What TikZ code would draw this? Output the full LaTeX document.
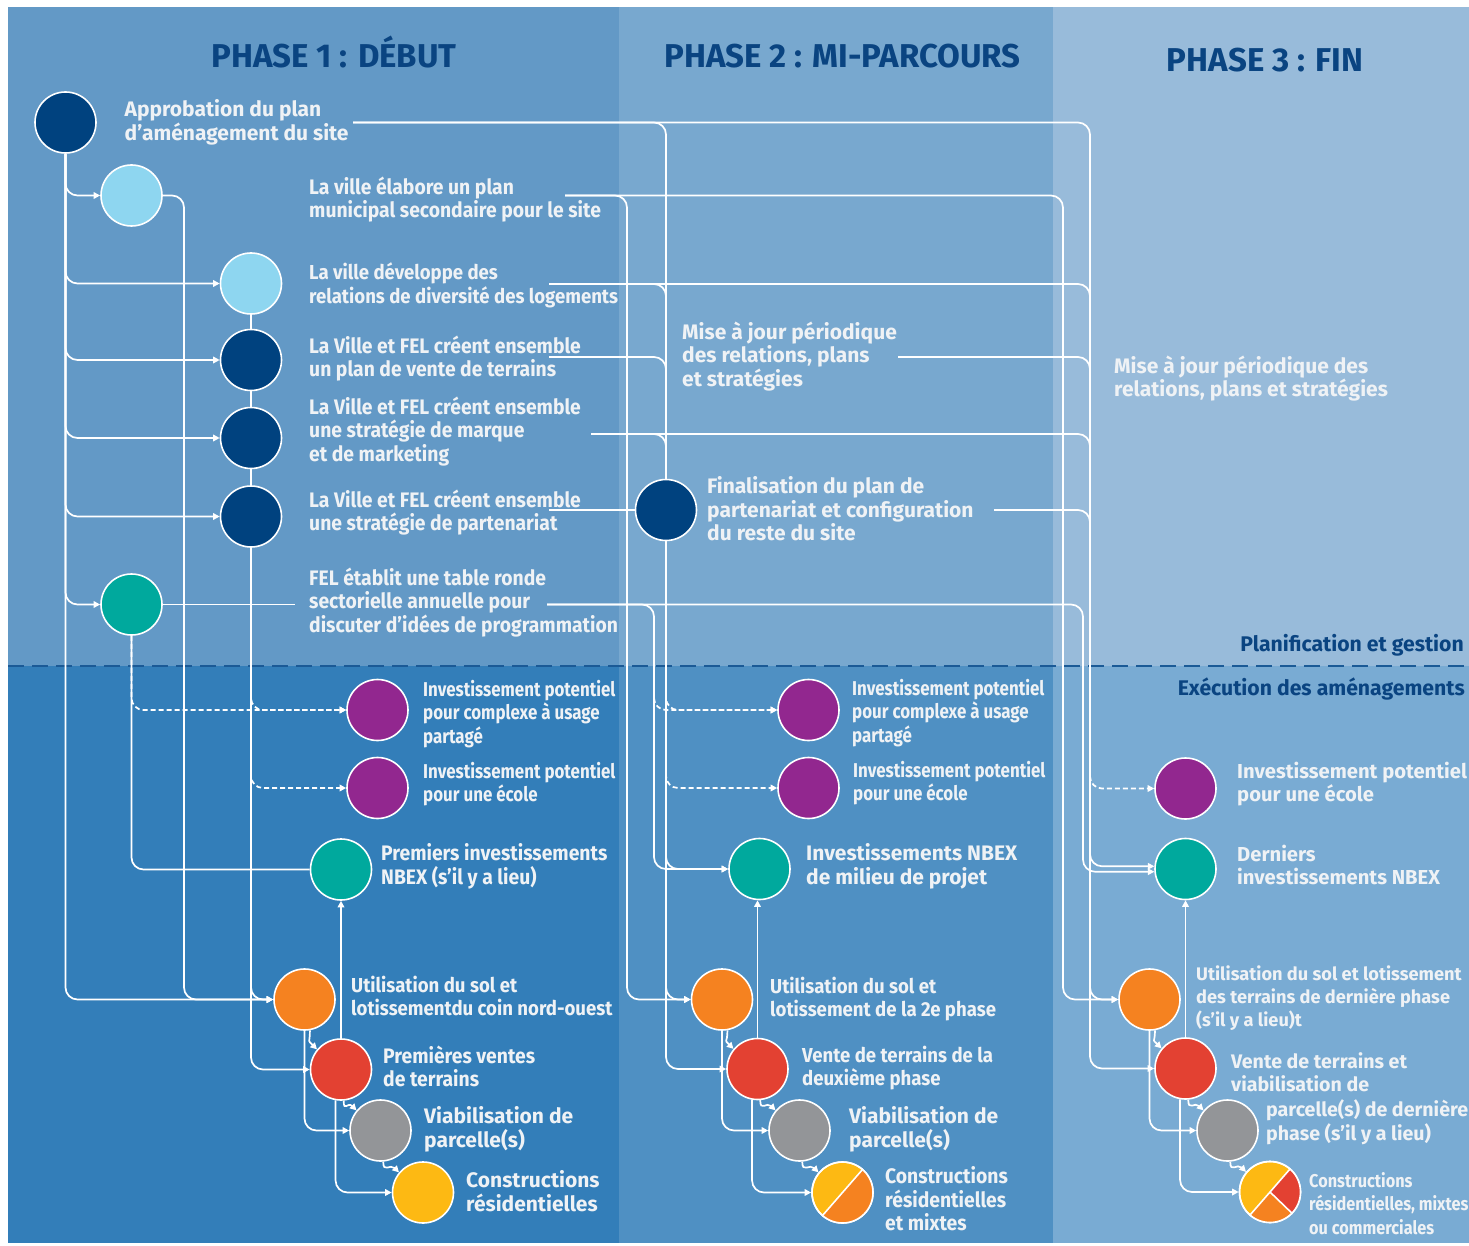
\documentclass[tikz,border=0pt]{standalone}
\usepackage{fontspec}
\setmainfont{Fira Sans}
\newfontfamily\wfont{Fira Sans}
\newfontfamily\pfont[FakeStretch=0.845]{Fira Sans}
\newfontfamily\mfont[FakeStretch=0.92]{Fira Sans}
\newfontfamily\yfont[FakeStretch=0.88]{Fira Sans}
\usetikzlibrary{arrows.meta,calc}
\definecolor{bgAu}{HTML}{6399C6}
\definecolor{bgAl}{HTML}{337EB9}
\definecolor{bgBu}{HTML}{78A8CF}
\definecolor{bgBl}{HTML}{4F90C3}
\definecolor{bgCu}{HTML}{98BBDA}
\definecolor{bgCl}{HTML}{79ABD3}
\definecolor{cNavy}{HTML}{00427F}
\definecolor{cLight}{HTML}{8ED6F0}
\definecolor{cTeal}{HTML}{00A99D}
\definecolor{cPurple}{HTML}{92278F}
\definecolor{cOrange}{HTML}{F58220}
\definecolor{cRed}{HTML}{E34132}
\definecolor{cGrey}{HTML}{939598}
\definecolor{cYellow}{HTML}{FDB913}
\definecolor{cTitle}{HTML}{0A4481}
\definecolor{cSep}{HTML}{1B5A96}
\definecolor{cText}{HTML}{EFF2F5}
\newcommand\tstrut{\rule{0pt}{16.5pt}}
\tikzset{
  dot/.style={circle, draw=white, line width=1.6pt, minimum size=61pt, inner sep=0pt},
  ln/.style={draw=white, line width=1.7pt, rounded corners=12pt},
  arr/.style={-{Triangle[length=6.5pt,width=6.5pt]}},
  dsh/.style={dash pattern=on 5pt off 3pt},
  lb/.style={anchor=north west, inner sep=0pt, align=left, text=cText},
  wl/.style={lb, font=\wfont\bfseries\fontsize{21}{23.5}\selectfont},
  wlt/.style={lb, font=\wfont\bfseries\fontsize{20.2}{23.5}\selectfont},
  wlo/.style={lb, font=\wfont\bfseries\fontsize{18.2}{23}\selectfont},
  wlr/.style={lb, font=\wfont\bfseries\fontsize{19.6}{23.5}\selectfont},
  pl/.style={lb, font=\pfont\bfseries\fontsize{20}{23.5}\selectfont},
  ml/.style={lb, font=\mfont\bfseries\fontsize{21}{23.5}\selectfont},
  mls/.style={lb, font=\mfont\bfseries\fontsize{20.2}{23.5}\selectfont},
  yl/.style={lb, font=\yfont\bfseries\fontsize{18.5}{23.5}\selectfont},
  ttl/.style={anchor=base, inner sep=0pt, text=cTitle, font=\wfont\bfseries\fontsize{33}{38}\selectfont},
  sect/.style={anchor=base east, inner sep=0pt, text=cTitle, font=\wfont\bfseries\fontsize{21.2}{25}\selectfont}
}
\begin{document}
\begin{tikzpicture}[x=1pt,y=-1pt]
\useasboundingbox (0,0) rectangle (1469,1246);
\clip (0,0) rectangle (1469,1246);
\fill[white] (0,0) rectangle (1469,1246);
\fill[bgAu] (8,7) rectangle (619,666);
\fill[bgAl] (8,666) rectangle (619,1243);
\fill[bgBu] (619,7) rectangle (1053,666);
\fill[bgBl] (619,666) rectangle (1053,1243);
\fill[bgCu] (1053,7) rectangle (1469,666);
\fill[bgCl] (1053,666) rectangle (1469,1243);
\draw[cSep, line width=2pt, dash pattern=on 16pt off 8pt] (8,666) -- (1469,666);

% titles
\node[ttl] (t1) at (334,68) {PHASE 1 : DÉBUT};
\node[ttl] (t2) at (842.5,68) {PHASE 2 : MI-PARCOURS};
\node[ttl] (t3) at (1265,71.5) {PHASE 3 : FIN};
\node[sect] (sPlan) at (1464,651) {Planification et gestion};
\node[sect] (sExec) at (1465,695) {Exécution des aménagements};

% circles
\node[dot, fill=cNavy] (A) at (65.5,122.5) {};
\node[dot, fill=cLight] (B) at (131.5,195.5) {};
\node[dot, fill=cLight] (C) at (251,283.5) {};
\node[dot, fill=cNavy] (D) at (251,360) {};
\node[dot, fill=cNavy] (E) at (251,438) {};
\node[dot, fill=cNavy] (F) at (251,516.5) {};
\node[dot, fill=cTeal] (G) at (131.5,604.5) {};
\node[dot, fill=cNavy] (H) at (666,510) {};
\node[dot, fill=cPurple] (P1a) at (377.5,710) {};
\node[dot, fill=cPurple] (P1b) at (377.5,788) {};
\node[dot, fill=cTeal] (N1) at (341,869.5) {};
\node[dot, fill=cOrange] (O1) at (304.5,999.5) {};
\node[dot, fill=cRed] (R1) at (341,1069.5) {};
\node[dot, fill=cGrey] (V1) at (380.5,1130.5) {};
\node[dot, fill=cYellow] (Y1) at (423,1192.5) {};
\node[dot, fill=cPurple] (P2a) at (808.5,710) {};
\node[dot, fill=cPurple] (P2b) at (808.5,788) {};
\node[dot, fill=cTeal] (N2) at (759.5,869) {};
\node[dot, fill=cOrange] (O2) at (722,999.5) {};
\node[dot, fill=cRed] (R2) at (757.5,1069) {};
\node[dot, fill=cGrey] (V2) at (799.5,1130.5) {};
\node[dot, fill=cYellow] (Y2) at (842.5,1192.5) {};
\node[dot, fill=cPurple] (P3) at (1185.5,788.5) {};
\node[dot, fill=cTeal] (N3) at (1185.5,869) {};
\node[dot, fill=cOrange] (O3) at (1149.5,999.5) {};
\node[dot, fill=cRed] (R3) at (1185.5,1068.5) {};
\node[dot, fill=cGrey] (V3) at (1227.5,1130.5) {};
\node[dot, fill=cYellow] (Y3) at (1270,1192) {};

% pies
\fill[cOrange] (Y2.center) -- ++(-49:30.5) arc[start angle=-49, end angle=131, radius=30.5] -- cycle;
\draw[white, line width=1.6pt] (Y2.49) -- (Y2.229);
\draw[white, line width=1.6pt] (Y2.center) circle[radius=30.5];
\fill[cOrange] (Y3.center) -- ++(131:30.5) arc[start angle=131, end angle=44, radius=30.5] -- cycle;
\fill[cRed] (Y3.center) -- ++(44:30.5) arc[start angle=44, end angle=-49, radius=30.5] -- cycle;
\draw[white, line width=1.6pt] (Y3.49) -- (Y3.229);
\draw[white, line width=1.6pt] (Y3.center) -- (Y3.-44);
\draw[white, line width=1.6pt] (Y3.center) circle[radius=30.5];

% labels
\node[wl] (lA) at (124.5,99.5) {\tstrut Approbation du plan\\d’aménagement du site};
\node[ml] (lB) at (309,176.5) {\tstrut La ville élabore un plan\\municipal secondaire pour le site};
\node[mls] (lC) at (309,262.5) {\tstrut La ville développe des\\relations de diversité des logements};
\node[ml] (lD) at (309,335.5) {\tstrut La Ville et FEL créent ensemble\\un plan de vente de terrains};
\node[ml] (lE) at (309,396.5) {\tstrut La Ville et FEL créent ensemble\\une stratégie de marque\\et de marketing};
\node[ml] (lF) at (309,489.5) {\tstrut La Ville et FEL créent ensemble\\une stratégie de partenariat};
\node[ml] (lG) at (309,567.5) {\tstrut FEL établit une table ronde\\sectorielle annuelle pour\\discuter d’idées de programmation};
\node[wl] (lM2) at (682,321.5) {\tstrut Mise à jour périodique\\des relations, plans\\et stratégies};
\node[wl] (lH) at (707,476.5) {\tstrut Finalisation du plan de\\partenariat et configuration\\du reste du site};
\node[wl] (lM3) at (1114,355.5) {\tstrut Mise à jour périodique des\\relations, plans et stratégies};
\node[pl] (lP1a) at (423,679.5) {\tstrut Investissement potentiel\\pour complexe à usage\\partagé};
\node[pl] (lP1b) at (423,761.5) {\tstrut Investissement potentiel\\pour une école};
\node[ml] (lN1) at (381,843.5) {\tstrut Premiers investissements\\NBEX (s’il y a lieu)};
\node[mls] (lO1) at (351,975.5) {\tstrut Utilisation du sol et\\lotissementdu coin nord-ouest};
\node[ml] (lR1) at (383,1045.5) {\tstrut Premières ventes\\de terrains};
\node[wl] (lV1) at (424,1106.5) {\tstrut Viabilisation de\\parcelle(s)};
\node[wl] (lY1) at (466,1170.5) {\tstrut Constructions\\résidentielles};
\node[pl] (lP2a) at (852,678.5) {\tstrut Investissement potentiel\\pour complexe à usage\\partagé};
\node[pl] (lP2b) at (853,760.5) {\tstrut Investissement potentiel\\pour une école};
\node[wl] (lN2) at (806,843.5) {\tstrut Investissements NBEX\\de milieu de projet};
\node[mls] (lO2) at (770,976.5) {\tstrut Utilisation du sol et\\lotissement de la 2e phase};
\node[mls] (lR2) at (802,1045.5) {\tstrut Vente de terrains de la\\deuxième phase};
\node[wl] (lV2) at (849,1106.5) {\tstrut Viabilisation de\\parcelle(s)};
\node[ml] (lY2) at (885,1166.5) {\tstrut Constructions\\résidentielles\\et mixtes};
\node[wlt] (lP3) at (1237,761.5) {\tstrut Investissement potentiel\\pour une école};
\node[wlt] (lN3) at (1237,844.5) {\tstrut Derniers\\investissements NBEX};
\node[wlo] (lO3) at (1196,963.5) {\tstrut Utilisation du sol et lotissement\\des terrains de dernière phase\\(s’il y a lieu)t};
\node[wlr] (lR3) at (1231,1051.5) {\tstrut Vente de terrains et\\viabilisation de};
\node[wlr] (lR3b) at (1266,1099.5) {\tstrut parcelle(s) de dernière\\phase (s’il y a lieu)};
\node[yl] (lY3) at (1309,1170.5) {\tstrut Constructions\\résidentielles, mixtes\\ou commerciales};

% helper coordinates
\coordinate (aS) at (353,122.5);
\coordinate (bS) at (565,195.5);
\coordinate (cS) at (549,284);
\coordinate (dS) at (549,357);
\coordinate (eS) at (591,434);
\coordinate (fS) at (549,510);
\coordinate (gT) at (295,604.5);
\coordinate (gS) at (547,604.5);
\coordinate (mS) at (898,357);
\coordinate (hS) at (994,510);
\coordinate (X1b) at (184,0);
\coordinate (X2b) at (627,0);
\coordinate (X2g) at (654,0);
\coordinate (X3) at (1090,0);
\coordinate (X3b) at (1063,0);
\coordinate (X3g) at (1083,0);
\coordinate (k2g) at (654,650);
\coordinate (k3) at (1090,560);

% phase 1 planning
\draw[ln,arr] (A.south) |- (B.west);
\draw[ln,arr] (A.south) |- (C.west);
\draw[ln,arr] (A.south) |- (D.west);
\draw[ln,arr] (A.south) |- (E.west);
\draw[ln,arr] (A.south) |- (F.west);
\draw[ln,arr] (A.south) |- (G.west);
\draw[ln,arr] (A.south) |- (O1.west);
\draw[ln,arr] (B.east) -| (O1.west -| X1b) -- (O1.west);
\draw[ln] (C.south) -- (D.north);
\draw[ln] (D.south) -- (E.north);
\draw[ln] (E.south) -- (F.north);
\draw[ln,arr] (F.south) |- (O1.west);
\draw[ln,arr] (F.south) |- (R1.west);
\draw[ln,arr,dsh] (F.south) |- (P1a.west);
\draw[ln,arr,dsh] (F.south) |- (P1b.west);
\draw[ln] (G.south) |- (N1.west);
\draw[ln,arr,dsh] (G.south) |- (P1a.west);
\draw[ln] (G.east) -- (gT);

% phase 2 feeders
\draw[ln] (aS) -| (H.north);
\draw[ln] (cS) -| (H.north);
\draw[ln] (dS) -| (H.north);
\draw[ln] (eS) -| (H.north);
\draw[ln] (fS) -- (H.west);
\draw[ln,arr] (bS) -| (O2.west -| X2b) -- (O2.west);
\draw[ln,arr] (gS) -| (N2.west -| X2g) -- (N2.west);
\draw[ln,arr,dsh] (k2g) |- (P2a.west);
\draw[ln,arr,dsh] (H.south) |- (P2a.west);
\draw[ln,arr,dsh] (H.south) |- (P2b.west);
\draw[ln,arr] (H.south) |- (N2.west);
\draw[ln,arr] (H.south) |- (O2.west);
\draw[ln,arr] (H.south) |- (R2.west);

% phase 3 feeders
\draw[ln,arr] (aS) -| (R3.west -| X3) -- (R3.west);
\draw[ln] (cS) -| (N3.west -| X3);
\draw[ln] (mS) -| (N3.west -| X3);
\draw[ln] (eS) -| (N3.west -| X3);
\draw[ln] (hS) -| (N3.west -| X3);
\draw[ln,arr] (bS) -| (O3.west -| X3b) -- (O3.west);
\draw[ln,arr] (gS) -| (N3.185 -| X3g) -- (N3.185);
\draw[ln,arr,dsh] (k3) |- (P3.west);
\draw[ln,arr] (k3) |- (N3.175);
\draw[ln,arr] (k3) |- (O3.west);

% execution chains
\draw[ln,arr] (R1.north) -- (N1.south);
\draw[ln,arr] (O1.south) |- (V1.west);
\draw[ln,arr] (R1.-100) |- (Y1.west);
\draw[ln,arr] (O1.-80) .. controls +(0,14) and +(-10,-10) .. (R1.140);
\draw[ln,arr] (R1.-85) .. controls +(0,12) and +(-9,-9) .. (V1.140);
\draw[ln,arr] (V1.-85) .. controls +(0,12) and +(-9,-9) .. (Y1.140);

\draw[ln,arr] (R2.north) -- (R2.north |- N2.south);
\draw[ln,arr] (O2.south) |- (V2.west);
\draw[ln,arr] (R2.-100) |- (Y2.west);
\draw[ln,arr] (O2.-80) .. controls +(0,14) and +(-10,-10) .. (R2.140);
\draw[ln,arr] (R2.-85) .. controls +(0,12) and +(-9,-9) .. (V2.140);
\draw[ln,arr] (V2.-85) .. controls +(0,12) and +(-9,-9) .. (Y2.140);

\draw[ln,arr] (R3.north) -- (N3.south);
\draw[ln,arr] (O3.south) |- (V3.west);
\draw[ln,arr] (R3.-100) |- (Y3.west);
\draw[ln,arr] (O3.-80) .. controls +(0,14) and +(-10,-10) .. (R3.140);
\draw[ln,arr] (R3.-85) .. controls +(0,12) and +(-9,-9) .. (V3.140);
\draw[ln,arr] (V3.-85) .. controls +(0,12) and +(-9,-9) .. (Y3.140);
\end{tikzpicture}
\end{document}
